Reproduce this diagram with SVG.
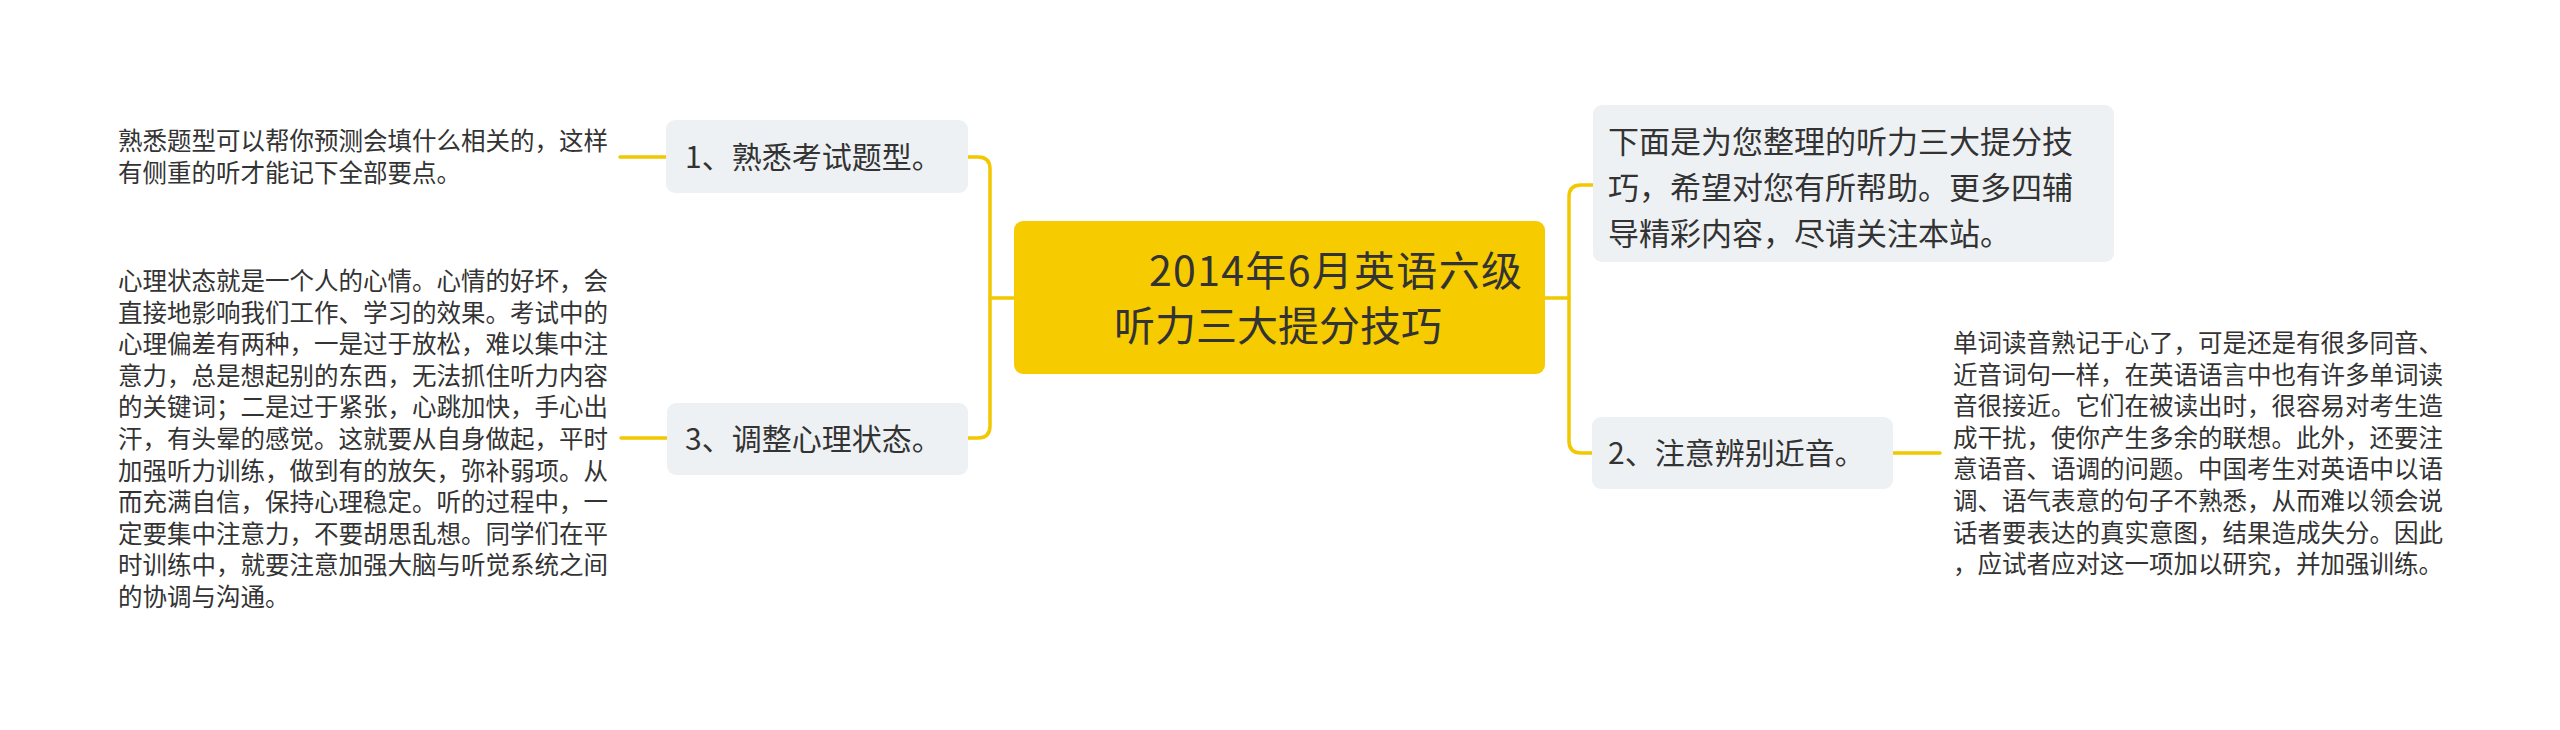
<svg xmlns="http://www.w3.org/2000/svg" width="2560" height="730" viewBox="0 0 2560 730">
<style>
.bg{fill:#ffffff}
.node rect{fill:#EEF1F4}
.center rect{fill:#F6CB00}
text{font-family:"Noto Sans CJK SC","Noto Sans",sans-serif;fill:#333333}
.t30{font-size:30px}
.t31{font-size:31px}
.t41{font-size:41px}
.leaf{font-size:24.5px}
.conn path{fill:none;stroke:#F2C800;stroke-width:3.5;stroke-linecap:round}
</style>
<rect class="bg" x="0" y="0" width="2560" height="730"/>
<g class="conn" id="connectors">
<path d="M1014 298 H990"/>
<path d="M968 157 H978 Q990 157 990 169 V426 Q990 438 978 438 H968"/>
<path d="M666 157 H620"/>
<path d="M667 438 H621"/>
<path d="M1545 298 H1569"/>
<path d="M1593 185 H1581 Q1569 185 1569 197 V441 Q1569 453 1581 453 H1592"/>
<path d="M1893 453 H1940"/>
</g>
<g id="center" class="center">
<rect x="1014" y="221" width="531" height="153" rx="9"/>
<text class="t41" x="1149" y="286" textLength="373" lengthAdjust="spacing">2014年6月英语六级</text>
<text class="t41" x="1114" y="341">听力三大提分技巧</text>
</g>
<g id="node1" class="node">
<rect x="666" y="120" width="302" height="73" rx="9"/>
<text class="t30" x="685" y="168">1、熟悉考试题型。</text>
</g>
<g id="node3" class="node">
<rect x="667" y="403" width="301" height="72" rx="9"/>
<text class="t30" x="685" y="450">3、调整心理状态。</text>
</g>
<g id="intro" class="node">
<rect x="1593" y="105" width="521" height="157" rx="9"/>
<text class="t31" x="1608" y="153">下面是为您整理的听力三大提分技</text>
<text class="t31" x="1608" y="199">巧，希望对您有所帮助。更多四辅</text>
<text class="t31" x="1608" y="245">导精彩内容，尽请关注本站。</text>
</g>
<g id="node2" class="node">
<rect x="1592" y="417" width="301" height="72" rx="9"/>
<text class="t30" x="1608" y="464">2、注意辨别近音。</text>
</g>
<g id="leaf1">
<text class="leaf" x="118" y="150">熟悉题型可以帮你预测会填什么相关的，这样</text>
<text class="leaf" x="118" y="182">有侧重的听才能记下全部要点。</text>
</g>
<g id="leaf3">
<text class="leaf" x="118" y="290">心理状态就是一个人的心情。心情的好坏，会</text>
<text class="leaf" x="118" y="321.6">直接地影响我们工作、学习的效果。考试中的</text>
<text class="leaf" x="118" y="353.2">心理偏差有两种，一是过于放松，难以集中注</text>
<text class="leaf" x="118" y="384.8">意力，总是想起别的东西，无法抓住听力内容</text>
<text class="leaf" x="118" y="416.4">的关键词；二是过于紧张，心跳加快，手心出</text>
<text class="leaf" x="118" y="448">汗，有头晕的感觉。这就要从自身做起，平时</text>
<text class="leaf" x="118" y="479.6">加强听力训练，做到有的放矢，弥补弱项。从</text>
<text class="leaf" x="118" y="511.2">而充满自信，保持心理稳定。听的过程中，一</text>
<text class="leaf" x="118" y="542.8">定要集中注意力，不要胡思乱想。同学们在平</text>
<text class="leaf" x="118" y="574.4">时训练中，就要注意加强大脑与听觉系统之间</text>
<text class="leaf" x="118" y="606">的协调与沟通。</text>
</g>
<g id="leaf2">
<text class="leaf" x="1953" y="352">单词读音熟记于心了，可是还是有很多同音、</text>
<text class="leaf" x="1953" y="383.6">近音词句一样，在英语语言中也有许多单词读</text>
<text class="leaf" x="1953" y="415.2">音很接近。它们在被读出时，很容易对考生造</text>
<text class="leaf" x="1953" y="446.8">成干扰，使你产生多余的联想。此外，还要注</text>
<text class="leaf" x="1953" y="478.4">意语音、语调的问题。中国考生对英语中以语</text>
<text class="leaf" x="1953" y="510">调、语气表意的句子不熟悉，从而难以领会说</text>
<text class="leaf" x="1953" y="541.6">话者要表达的真实意图，结果造成失分。因此</text>
<text class="leaf" x="1953" y="573.2">，应试者应对这一项加以研究，并加强训练。</text>
</g>
</svg>
